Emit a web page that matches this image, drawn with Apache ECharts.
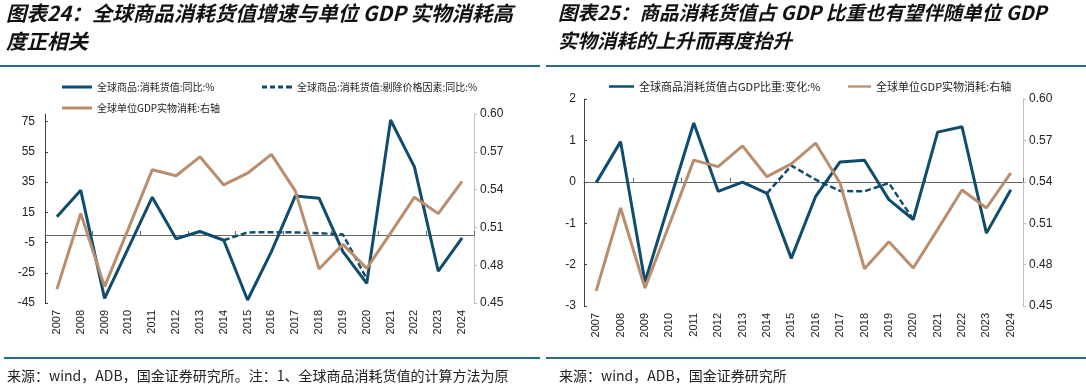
<!DOCTYPE html>
<html>
<head>
<meta charset="utf-8">
<script src="https://cdn.jsdelivr.net/npm/echarts@6/dist/echarts.min.js"></script>
<style>
html,body{margin:0;padding:0;background:#fff;}
#c{width:1086px;height:391px;}
</style>
</head>
<body>
<div id="c"></div>
<script>
const years = ['2007','2008','2009','2010','2011','2012','2013','2014','2015','2016','2017','2018','2019','2020','2021','2022','2023','2024'];
// Chart 24
const growthNominal = [12, 29.5, -42, -8.5, 25, -2.5, 2.3, -3.5, -43, -11, 25.7, 24.3, -11, -32, 76, 45, -24, -2];
const growthReal = [null, null, null, null, null, null, null, -3.5, 1.7, 1.8, 1.7, 1.2, 0.3, -29, null, null, null, null];
const unitGdpPhysical = [0.461, 0.521, 0.463, 0.509, 0.5557, 0.551, 0.566, 0.5437, 0.553, 0.568, 0.539, 0.477, 0.4965, 0.4775, 0.5055, 0.534, 0.521, 0.5465];
// Chart 25
const shareChange = [-0.02, 0.97, -2.42, -0.5, 1.42, -0.23, -0.01, -0.28, -1.85, -0.35, 0.48, 0.52, -0.43, -0.91, 1.2, 1.33, -1.24, -0.19];
const shareChangeAdj = [null, null, null, null, null, null, null, -0.28, 0.39, 0.05, -0.22, -0.23, -0.03, -0.91, null, null, null, null];
// tick labels
const leftTicks24 = [-45, -25, -5, 15, 35, 55, 75];

const names = {
  n1: '全球商品:消耗货值:同比:%',
  n2: '全球商品:消耗货值:剔除价格因素:同比:%',
  n3: '全球单位GDP实物消耗:右轴',
  m1: '全球商品消耗货值占GDP比重:变化:%',
  m2: '全球单位GDP实物消耗:右轴 ',
  m3: '剔除价格因素'
};

const BLUE = '#0F4C6E';
const BROWN = '#B98E6E';
const RULE = '#2A6A8C';
const TXT = '#222';
const numFont = '"Liberation Sans", Arial, sans-serif';
const cjk = '"Noto Sans CJK SC", sans-serif';
const solidIcon = 'path://M0,0H30V3H0Z';
const dashIcon = 'path://M0,0H5V3H0Z M8,0H13V3H8Z M16,0H21V3H16Z M24,0H30V3H24Z';

const chart = echarts.init(document.getElementById('c'), null, {renderer: 'canvas'});

function titleText(x, y, t, fs) {
  return {type: 'text', left: x, top: y, style: {text: t, fill: '#111', fontSize: fs, fontWeight: 'bold', fontStyle: 'italic', fontFamily: cjk}};
}
function rule(x, y, w) {
  return {type: 'rect', shape: {x: x, y: y, width: w, height: 2}, style: {fill: RULE}};
}
function srcText(x, y, t) {
  return {type: 'text', left: x, top: y, style: {text: t, fill: TXT, fontSize: 14, fontFamily: cjk}};
}

const catLabelAxis = (grid, margin) => ({
  type: 'category', gridIndex: grid, data: years, position: 'bottom',
  axisLine: {show: false, onZero: false}, axisTick: {show: false},
  axisLabel: {rotate: 90, fontSize: 11, color: TXT, fontFamily: numFont, margin: margin, interval: 0}
});
const zeroAxis = (grid, yIdx) => ({
  type: 'category', gridIndex: grid, data: years, position: 'bottom',
  axisLine: {show: true, onZero: true, onZeroAxisIndex: yIdx, lineStyle: {color: '#666', width: 1}},
  axisTick: {show: true, inside: true, length: 4, lineStyle: {color: '#666'}},
  axisLabel: {show: false}
});
const leg = (left, top, name, icon, w, fs) => ({
  left: left, top: top, itemWidth: w, itemHeight: 3, itemGap: 5, padding: 0,
  data: [{name: name, icon: icon}],
  textStyle: {fontSize: fs, color: TXT, fontFamily: cjk, padding: [0, 0, 0, 0]}
});

const option = {
  animation: false,
  backgroundColor: '#fff',
  grid: [
    {left: 45, right: 612, top: 114, bottom: 88},
    {left: 584, right: 63, top: 99, bottom: 85}
  ],
  legend: [
    leg(62, 82, names.n1, solidIcon, 30, 10),
    leg(262, 82, names.n2, dashIcon, 30, 10),
    leg(62, 103, names.n3, solidIcon, 30, 10),
    leg(609, 81, names.m1, solidIcon, 25, 11),
    leg(848, 81, names.m2, solidIcon, 23, 11)
  ],
  xAxis: [
    catLabelAxis(0, 7),
    zeroAxis(0, 0),
    catLabelAxis(1, 7),
    zeroAxis(1, 2)
  ],
  yAxis: [
    {type: 'value', gridIndex: 0, position: 'left', min: -45, max: 80, splitLine: {show: false},
      axisLine: {show: true, lineStyle: {color: '#404040'}},
      axisTick: {show: true, inside: true, length: 3, customValues: leftTicks24, lineStyle: {color: '#404040'}},
      axisLabel: {customValues: leftTicks24, fontSize: 12, color: TXT, fontFamily: numFont, margin: 10}},
    {type: 'value', gridIndex: 0, position: 'right', min: 0.45, max: 0.60, interval: 0.03, splitLine: {show: false},
      axisLine: {show: true, lineStyle: {color: '#BFBFBF'}},
      axisTick: {show: true, length: 3, lineStyle: {color: '#BFBFBF'}},
      axisLabel: {fontSize: 12, color: TXT, fontFamily: numFont, margin: 6, formatter: v => v.toFixed(2)}},
    {type: 'value', gridIndex: 1, position: 'left', min: -3, max: 2, interval: 1, splitLine: {show: false},
      axisLine: {show: true, lineStyle: {color: '#404040'}},
      axisTick: {show: true, inside: true, length: 3, lineStyle: {color: '#404040'}},
      axisLabel: {fontSize: 12, color: TXT, fontFamily: numFont, margin: 8}},
    {type: 'value', gridIndex: 1, position: 'right', min: 0.45, max: 0.60, interval: 0.03, splitLine: {show: false},
      axisLine: {show: true, lineStyle: {color: '#BFBFBF'}},
      axisTick: {show: true, length: 3, lineStyle: {color: '#BFBFBF'}},
      axisLabel: {fontSize: 12, color: TXT, fontFamily: numFont, margin: 6, formatter: v => v.toFixed(2)}}
  ],
  series: [
    {name: names.n1, type: 'line', xAxisIndex: 0, yAxisIndex: 0, data: growthNominal, symbol: 'none', color: BLUE, lineStyle: {width: 3, color: BLUE}},
    {name: names.n2, type: 'line', xAxisIndex: 0, yAxisIndex: 0, data: growthReal, symbol: 'none', color: BLUE, lineStyle: {width: 2.5, color: BLUE, type: [6, 3]}},
    {name: names.n3, type: 'line', xAxisIndex: 0, yAxisIndex: 1, data: unitGdpPhysical, symbol: 'none', color: BROWN, lineStyle: {width: 3, color: BROWN}},
    {name: names.m1, type: 'line', xAxisIndex: 2, yAxisIndex: 2, data: shareChange, symbol: 'none', color: BLUE, lineStyle: {width: 3, color: BLUE}},
    {name: names.m3, type: 'line', xAxisIndex: 2, yAxisIndex: 2, data: shareChangeAdj, symbol: 'none', color: BLUE, lineStyle: {width: 2.5, color: BLUE, type: [6, 3]}},
    {name: names.m2, type: 'line', xAxisIndex: 2, yAxisIndex: 3, data: unitGdpPhysical, symbol: 'none', color: BROWN, lineStyle: {width: 3, color: BROWN}}
  ],
  graphic: [
    titleText(6, 3, '图表24：全球商品消耗货值增速与单位 GDP 实物消耗高', 20.5),
    titleText(6, 31, '度正相关', 20.5),
    titleText(558, 3, '图表25：商品消耗货值占 GDP 比重也有望伴随单位 GDP', 19.5),
    titleText(558, 31, '实物消耗的上升而再度抬升', 19.5),
    rule(0, 65, 540),
    rule(546, 65, 540),
    rule(4, 357, 536),
    rule(546, 357, 540),
    srcText(7, 369, '来源：wind，ADB，国金证券研究所。注：1、全球商品消耗货值的计算方法为原'),
    srcText(559, 369, '来源：wind，ADB，国金证券研究所')
  ]
};
chart.setOption(option);
</script>
</body>
</html>
